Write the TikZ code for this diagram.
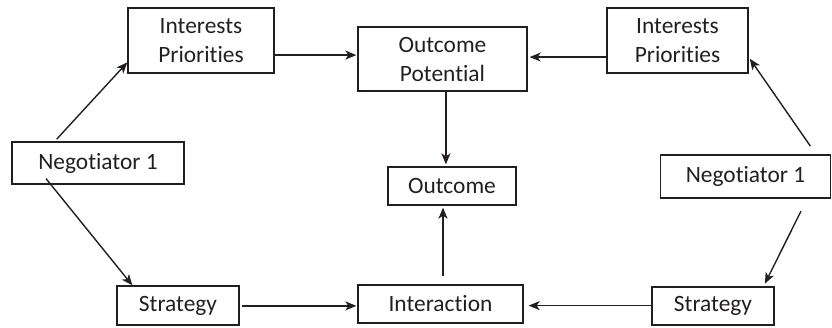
\documentclass[tikz,border=0pt]{standalone}
\usepackage{fontspec}
\setmainfont{Carlito}[Ligatures={NoCommon,NoRequired,NoContextual},Contextuals=NoAlternate]
\usetikzlibrary{calc,arrows.meta}
\definecolor{ink}{HTML}{231F20}
\begin{document}
\begin{tikzpicture}[x=1pt,y=-1pt,
  box/.style={draw=ink,line width=1.3pt,inner sep=0pt,align=center,text=ink,
    font=\fontsize{23.4}{29}\selectfont},
  arr/.style={draw=ink,line width=1.4pt,-{Stealth[length=11pt,width=9pt,inset=3pt]}}]
\useasboundingbox (0,0) rectangle (832,327);
\node[box,minimum width=146pt,minimum height=65pt] (ipl) at (201,40.5) {Interests\\Priorities};
\node[box,minimum width=169pt,minimum height=64pt] (op) at (442.5,59) {Outcome\\Potential};
\node[box,minimum width=141pt,minimum height=65pt] (ipr) at (677.5,40.5) {Interests\\Priorities};
\node[box,minimum width=172pt,minimum height=42pt] (n1l) at (98,163) {Negotiator 1};
\node[box,minimum width=170pt,minimum height=43pt] (n1r) at (745.5,176.5) {Negotiator 1};
\node[box,minimum width=128pt,minimum height=38pt] (out) at (452,186) {Outcome};
\node[box,minimum width=122pt,minimum height=39pt] (sl) at (178,305.5) {Strategy};
\node[box,minimum width=165pt,minimum height=38pt] (int) at (440.5,304) {Interaction};
\node[box,minimum width=122pt,minimum height=38pt] (sr) at (713,306) {Strategy};
% connectors
\coordinate (a1) at ($(n1l.north west)!0.25!(n1l.north east)$);
\coordinate (b1) at ($(ipl.north west)!0.83!(ipl.south west)$);
\draw[arr,shorten <=3pt] (a1) -- (b1);
\coordinate (a2) at ($(ipl.north east)!0.72!(ipl.south east)$);
\draw[arr,shorten >=1pt] (a2) -- (a2 -| op.west);
\coordinate (a3) at ($(ipr.north west)!0.75!(ipr.south west)$);
\draw[arr,shorten >=2pt] (a3) -- (a3 -| op.east);
\coordinate (a4) at ($(n1r.north west)!0.912!(n1r.north east)$);
\coordinate (b4) at ($(ipr.north east)!0.75!(ipr.south east)$);
\draw[arr,shorten <=10pt,shorten >=2pt] (a4) -- (b4);
\coordinate (a5) at ($(op.south west)!0.52!(op.south east)$);
\draw[arr,shorten >=2pt] (a5) -- (a5 |- out.north);
\coordinate (a6) at ($(int.north west)!0.515!(int.north east)$);
\draw[arr,shorten <=8pt,shorten >=2pt] (a6) -- (a6 |- out.south);
\coordinate (a7) at ($($(n1l.north west)!0.2!(n1l.north east)$)!0.86!($(n1l.south west)!0.2!(n1l.south east)$)$);
\coordinate (b7) at ($(sl.north west)!0.13!(sl.north east)$);
\draw[arr] (a7) -- (b7);
\coordinate (a8) at ($(sl.north east)!0.51!(sl.south east)$);
\draw[arr,shorten <=2pt,shorten >=1pt] (a8) -- (a8 -| int.west);
\coordinate (a9) at ($(n1r.south west)!0.86!(n1r.south east)$);
\coordinate (b9) at ($(sr.north west)!0.91!(sr.north east)$);
\draw[arr,shorten <=14pt,shorten >=3pt] (a9) -- (b9);
\coordinate (a10) at ($(sr.north west)!0.49!(sr.south west)$);
\draw[arr,shorten >=5pt] (a10) -- (a10 -| int.east);
\end{tikzpicture}
\end{document}
